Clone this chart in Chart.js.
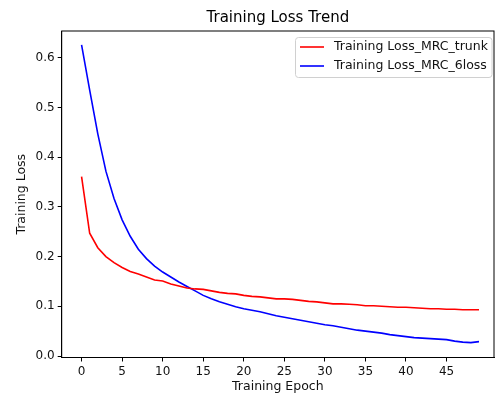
<!DOCTYPE html>
<html>
<head>
<meta charset="utf-8">
<script src="https://cdn.jsdelivr.net/npm/chart.js@4"></script>
<style>
  html, body { margin: 0; padding: 0; background: #fff; }
  #wrap { width: 497px; height: 396px; }
</style>
</head>
<body>
<div id="wrap"><canvas id="lossChart" width="497" height="396"></canvas></div>
<script>
// epochs 0..49
const epochs = [0,1,2,3,4,5,6,7,8,9,10,11,12,13,14,15,16,17,18,19,20,21,22,23,24,25,26,27,28,29,30,31,32,33,34,35,36,37,38,39,40,41,42,43,44,45,46,47,48,49];
const lossTrunk = [0.361,0.247,0.218,0.200,0.188,0.178,0.170,0.165,0.159,0.153,0.151,0.145,0.141,0.137,0.135,0.134,0.131,0.128,0.126,0.125,0.122,0.120,0.119,0.117,0.115,0.115,0.114,0.112,0.110,0.109,0.107,0.105,0.105,0.104,0.103,0.101,0.101,0.100,0.099,0.098,0.098,0.097,0.096,0.095,0.095,0.094,0.094,0.093,0.093,0.093];
const loss6loss = [0.626,0.535,0.447,0.372,0.317,0.274,0.241,0.215,0.196,0.181,0.169,0.159,0.149,0.140,0.131,0.122,0.115,0.109,0.104,0.099,0.095,0.092,0.089,0.085,0.081,0.078,0.075,0.072,0.069,0.066,0.063,0.061,0.058,0.055,0.052,0.050,0.048,0.046,0.043,0.041,0.039,0.037,0.036,0.035,0.034,0.033,0.030,0.028,0.027,0.029];
const xTicks = [0,5,10,15,20,25,30,35,40,45];
const yTicks = [0,0.1,0.2,0.3,0.4,0.5,0.6];
const seriesNames = ["Training Loss_MRC_trunk", "Training Loss_MRC_6loss"];
const seriesColors = ["#ff0000", "#0000ff"];

const FONT = "'DejaVu Sans', sans-serif";

// frame, title and matplotlib-like legend
const decor = {
  id: "decor",
  afterDraw(chart) {
    const c = chart.ctx;
    const a = chart.chartArea;
    c.save();
    c.strokeStyle = "#000";
    c.lineWidth = 1;
    c.strokeRect(a.left, a.top, a.right - a.left, a.bottom - a.top);

    c.fillStyle = "#000";
    c.font = "15px " + FONT;
    c.textAlign = "center";
    c.textBaseline = "middle";
    c.fillText("Training Loss Trend", (a.left + a.right) / 2, 18);

    // legend box
    const bx = 295.5, by = 37.5, bw = 196.5, bh = 40, r = 3;
    c.beginPath();
    c.moveTo(bx + r, by);
    c.arcTo(bx + bw, by, bx + bw, by + bh, r);
    c.arcTo(bx + bw, by + bh, bx, by + bh, r);
    c.arcTo(bx, by + bh, bx, by, r);
    c.arcTo(bx, by, bx + bw, by, r);
    c.closePath();
    c.fillStyle = "rgba(255,255,255,0.85)";
    c.fill();
    c.strokeStyle = "#d0d0d0";
    c.stroke();

    c.font = "12.5px " + FONT;
    c.textAlign = "left";
    seriesNames.forEach((name, i) => {
      const y = 47 + i * 19;
      c.strokeStyle = seriesColors[i];
      c.lineWidth = 1.6;
      c.beginPath();
      c.moveTo(300, y);
      c.lineTo(324, y);
      c.stroke();
      c.fillStyle = "#111";
      c.fillText(name, 334, y);
    });
    c.restore();
  }
};

const ctx = document.getElementById("lossChart").getContext("2d");
new Chart(ctx, {
  type: "line",
  data: {
    datasets: [
      {
        label: seriesNames[0],
        data: epochs.map((e, i) => ({ x: e, y: lossTrunk[i] })),
        borderColor: seriesColors[0],
        borderWidth: 1.6,
        pointRadius: 0,
        tension: 0,
        fill: false
      },
      {
        label: seriesNames[1],
        data: epochs.map((e, i) => ({ x: e, y: loss6loss[i] })),
        borderColor: seriesColors[1],
        borderWidth: 1.6,
        pointRadius: 0,
        tension: 0,
        fill: false
      }
    ]
  },
  options: {
    responsive: false,
    animation: false,
    layout: { padding: { top: 31, right: 3, left: 0, bottom: 0 } },
    plugins: {
      legend: { display: false },
      title: { display: false },
      tooltip: { enabled: false }
    },
    scales: {
      x: {
        type: "linear",
        min: -2.45,
        max: 50.85,
        afterBuildTicks: s => { s.ticks = xTicks.map(v => ({ value: v })); },
        afterFit: s => { s.height = 38.5; },
        grid: { drawOnChartArea: false, drawTicks: true, tickLength: 4, color: "#000" },
        border: { display: true, color: "#000" },
        ticks: { color: "#111", font: { family: FONT, size: 12 }, padding: 3, maxRotation: 0 },
        title: { display: true, text: "Training Epoch", color: "#111", font: { family: FONT, size: 12.5 }, padding: { top: 0, bottom: 2 } }
      },
      y: {
        type: "linear",
        min: -0.003,
        max: 0.654,
        afterBuildTicks: s => { s.ticks = yTicks.map(v => ({ value: v })); },
        afterFit: s => { s.width = 61.7; },
        grid: { drawOnChartArea: false, drawTicks: true, tickLength: 4, color: "#000" },
        border: { display: true, color: "#000" },
        ticks: { color: "#111", font: { family: FONT, size: 12 }, padding: 3, callback: v => v.toFixed(1) },
        title: { display: true, text: "Training Loss", color: "#111", font: { family: FONT, size: 12.5 }, padding: { top: 14, bottom: 0 } }
      }
    }
  },
  plugins: [decor]
});
</script>
</body>
</html>
